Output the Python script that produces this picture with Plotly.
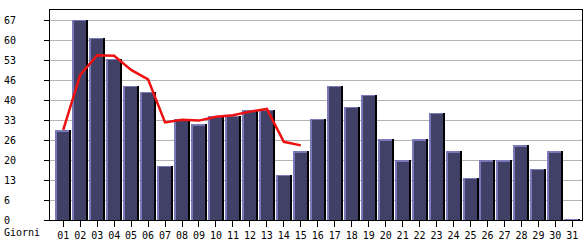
import plotly.graph_objects as go

days = ["%02d" % d for d in range(1, 32)]
visits = [30, 67, 61, 54, 45, 43, 18, 34, 32, 35, 35, 37, 37, 15, 23,
          34, 45, 38, 42, 27, 20, 27, 36, 23, 14, 20, 20, 25, 17, 23, 0.3]
trend_days = days[:15]
trend = [30.2, 48.6, 55.2, 55.0, 50.3, 47.1, 32.7, 33.6, 33.3, 34.6, 35.1, 36.3, 37.2, 26.2, 25.0]
y_tick_values = [0, 6.7, 13.4, 20.1, 26.8, 33.5, 40.2, 46.9, 53.6, 60.3, 67.0]
y_tick_labels = ["0", "6", "13", "20", "26", "33", "40", "46", "53", "60", "67"]
x_title = "Giorni"

W, H = 585, 240
L, R, T, B = 50, 3, 10, 20
pw = W - L - R
ph = H - T - B
slot = 16.97  # px per category
ymax = 70.35
px_per_unit = ph / ymax

def px(n):
    return n / slot

font = dict(family="DejaVu Sans Mono", size=10, color="#000000")

fig = go.Figure()
# shadow
fig.add_trace(go.Bar(x=days, y=visits, width=px(14), offset=px(-6),
                     marker=dict(color="#000000", line=dict(width=0)),
                     hoverinfo="skip", showlegend=False))
# highlight
fig.add_trace(go.Bar(x=days, y=visits, width=px(14), offset=px(-8),
                     marker=dict(color="#7a7ab8", line=dict(width=0)),
                     showlegend=False))
# face
face = [max(v - 1.2 / px_per_unit, 0) for v in visits]
fig.add_trace(go.Bar(x=days, y=face, width=px(12), offset=px(-6),
                     marker=dict(color="#414168", line=dict(width=0)),
                     hoverinfo="skip", showlegend=False))
fig.add_trace(go.Scatter(x=trend_days, y=trend, mode="lines",
                         line=dict(color="#ee1111", width=2.5), showlegend=False))

annotations = []
for v, t in zip(y_tick_values, y_tick_labels):
    annotations.append(dict(x=(2 - L) / pw, xref="paper", y=v, yref="y", text=t,
                            showarrow=False, xanchor="left", yanchor="middle", font=font))
annotations.append(dict(x=(2 - L) / pw, xref="paper", y=(220 - 232) / ph, yref="paper",
                        text=x_title, showarrow=False, xanchor="left", yanchor="middle", font=font))

fig.update_layout(
    width=W, height=H, margin=dict(l=L, r=R, t=T, b=B, pad=0, autoexpand=False),
    paper_bgcolor="#ffffff", plot_bgcolor="#ffffff",
    barmode="overlay", bargap=0,
    annotations=annotations,
    xaxis=dict(type="category", categoryorder="array", categoryarray=days,
               range=[-0.78, 30.57], showgrid=False, showline=True, linecolor="#000000",
               linewidth=1, mirror=True, ticks="outside", ticklen=6, tickcolor="#000000",
               tickfont=font, ticklabelstandoff=0, automargin=False, fixedrange=True),
    yaxis=dict(range=[0, ymax], tickvals=y_tick_values, showticklabels=False,
               showgrid=True, gridcolor="#b4b4b4", gridwidth=1, zeroline=False,
               showline=True, linecolor="#000000", linewidth=1, mirror=True,
               ticks="outside", ticklen=5, tickcolor="#000000", automargin=False,
               fixedrange=True),
)
fig.write_html("out.html")
